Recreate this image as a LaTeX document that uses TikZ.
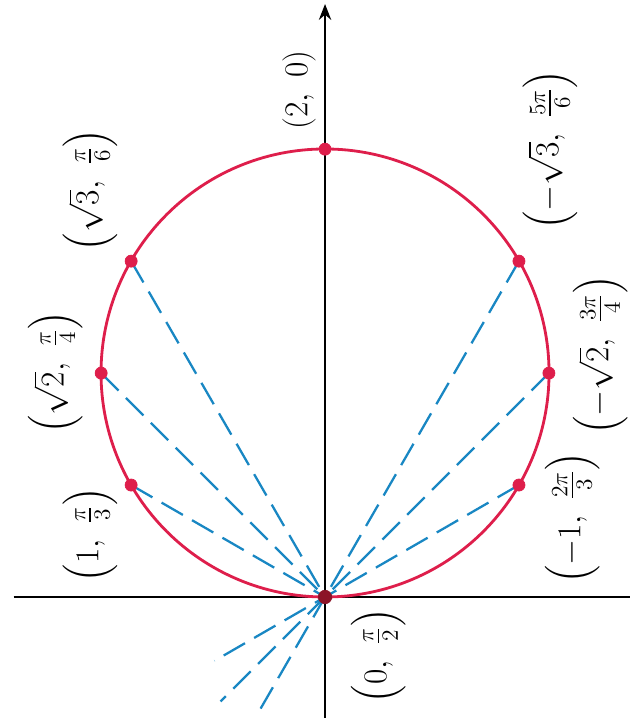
\RequirePackage{fix-cm}
\documentclass[tikz,border=0pt]{standalone}
\usepackage{amsmath}
\usetikzlibrary{arrows.meta}
\definecolor{curvered}{RGB}{222,30,75}
\definecolor{rayblue}{RGB}{25,135,195}
\definecolor{dotdark}{RGB}{140,20,40}
\begin{document}
\begin{tikzpicture}[scale=4.48,rotate=90,
    ray/.style={rayblue,line width=1.3pt,dash pattern=on 14pt off 6pt},
    lbl/.style={rotate=90,inner sep=0pt,font=\fontsize{19}{23}\selectfont}]
    \useasboundingbox (-0.5625,-1.357) rectangle (2.665,1.451);
    \coordinate (O) at (0,0);
    \draw[line width=1.3pt] (0,1.39)--(0,-1.36);
    \draw[line width=1.3pt,-{Stealth[length=9pt,width=7pt]}] (-0.54,0)--(2.647,0);
    \draw[curvered,line width=1.6pt] (1,0) circle (1);
    \foreach \r/\t/\n in {1.732/30/a, 1.414/45/b, 1/60/c}{
        \coordinate (p\n) at (\t:\r);
        \draw[ray] (p\n)--(O);
    }
    \foreach \r/\t/\n/\e in {-1.732/150/d/0.58, -1.414/135/e/0.66, -1/120/f/0.57}{
        \coordinate (p\n) at (\t:\r);
        \coordinate (q\n) at (\t:\e);
        \draw[ray] (p\n)--(q\n);
    }
    \coordinate (ptop) at (2,0);
    \foreach \n in {a,b,c,d,e,f,top}{
        \filldraw[curvered] (p\n) circle (0.027);
    }
    \filldraw[dotdark] (O) circle (0.03);
    \node[lbl] (ltop) at (2.263,0.116) {$(2,\ 0)$};
    \node[lbl] (la) at (1.817,1.049) {$\Bigl(\sqrt{3},\ \frac{\pi}{6}\Bigr)$};
    \node[lbl] (lb) at (1.004,1.204) {$\Bigl(\sqrt{2},\ \frac{\pi}{4}\Bigr)$};
    \node[lbl] (lc) at (0.277,1.049) {$\Bigl(1,\ \frac{\pi}{3}\Bigr)$};
    \node[lbl] (lO) at (-0.263,-0.237) {$\Bigl(0,\ \frac{\pi}{2}\Bigr)$};
    \node[lbl] (ld) at (1.996,-1.004) {$\Bigl(-\sqrt{3},\ \frac{5\pi}{6}\Bigr)$};
    \node[lbl] (le) at (1.080,-1.228) {$\Bigl(-\sqrt{2},\ \frac{3\pi}{4}\Bigr)$};
    \node[lbl] (lf) at (0.353,-1.103) {$\Bigl(-1,\ \frac{2\pi}{3}\Bigr)$};
\end{tikzpicture}
\end{document}
